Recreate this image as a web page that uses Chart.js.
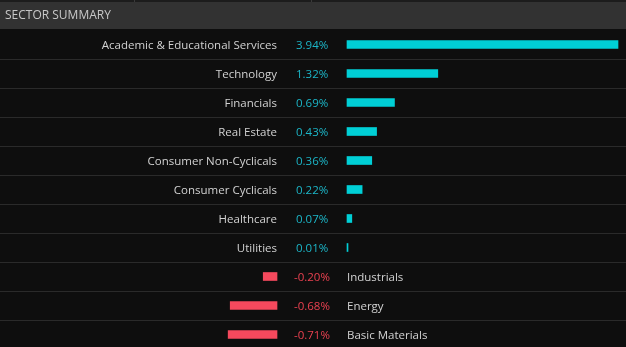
<!DOCTYPE html>
<html><head><meta charset="utf-8">
<script src="https://cdn.jsdelivr.net/npm/chart.js@4/dist/chart.umd.min.js"></script>
<style>html,body{margin:0;padding:0;background:#0e0e0e;overflow:hidden;width:626px;height:347px}canvas{display:block}</style>
</head><body>
<canvas id="c" width="626" height="349"></canvas>
<script>
const title = 'SECTOR SUMMARY';
const sectors = ['Academic & Educational Services','Technology','Financials','Real Estate','Consumer Non-Cyclicals','Consumer Cyclicals','Healthcare','Utilities','Industrials','Energy','Basic Materials'];
const changes = [3.94,1.32,0.69,0.43,0.36,0.22,0.07,0.01,-0.20,-0.68,-0.71];

const FONT = '11.5px "Open Sans"';
const HFONT = '12px "Open Sans"';
const POS = '#00cfd6', NEG = '#f5495d', POS_TXT = '#1cb6c8', NEG_TXT = '#ea4150', LBL = '#d2d2d2';
const maxAbs = Math.max(...changes.map(Math.abs));

const shiftPlugin = {
  id: 'shift',
  afterLayout(chart) {
    const xp = chart.scales.xp, xn = chart.scales.xn;
    const w = xp.right - xp.left;
    const right = chart.chartArea.left - 70;
    xn.left = right - w; xn.right = right; xn.width = w;
    xn.configure();
  },
  beforeDraw(chart) {
    const ctx = chart.ctx, y = chart.scales.y;
    ctx.save();
    ctx.fillStyle = '#0e0e0e'; ctx.fillRect(0, 0, chart.width, chart.height);
    ctx.fillStyle = '#1c1c1c'; ctx.fillRect(0, 0, chart.width, 2);
    ctx.fillStyle = '#3a3a3a'; ctx.fillRect(134, 0, 1, 2); ctx.fillRect(311, 0, 1, 2);
    ctx.fillStyle = '#323232'; ctx.fillRect(0, 2, chart.width, 27);
    ctx.fillStyle = '#2a2a2a';
    const step = (y.bottom - y.top) / sectors.length;
    for (let i = 0; i < sectors.length - 1; i++) {
      const yy = Math.round(y.getPixelForValue(i) + step / 2);
      ctx.fillRect(0, yy, chart.width, 1);
    }
    ctx.font = HFONT; ctx.textBaseline = 'middle';
    ctx.fillStyle = '#c8c8c8'; ctx.textAlign = 'left';
    ctx.fillText(title, 5, 16);
    ctx.restore();
  },
  afterDatasetsDraw(chart) {
    const ctx = chart.ctx, y = chart.scales.y, xp = chart.scales.xp, xn = chart.scales.xn;
    ctx.save();
    ctx.font = FONT; ctx.textBaseline = 'middle';
    changes.forEach((v, i) => {
      const yy = y.getPixelForValue(i) + 1.5;
      const txt = v.toFixed(2) + '%';
      if (v >= 0) {
        ctx.fillStyle = LBL; ctx.textAlign = 'right';
        ctx.fillText(sectors[i], xn.right, yy);
        ctx.fillStyle = POS_TXT; ctx.textAlign = 'left';
        ctx.fillText(txt, xn.right + 19, yy);
      } else {
        ctx.fillStyle = NEG_TXT; ctx.textAlign = 'left';
        ctx.fillText(txt, xn.right + 17, yy);
        ctx.fillStyle = LBL;
        ctx.fillText(sectors[i], xp.left, yy);
      }
    });
    ctx.restore();
  }
};

new Chart(document.getElementById('c'), {
  type: 'bar',
  data: {
    labels: sectors,
    datasets: [
      { data: changes.map(v => v >= 0 ? v : null), xAxisID: 'xp', backgroundColor: POS, clip: false, minBarLength: 1 },
      { data: changes.map(v => v < 0 ? v : null), xAxisID: 'xn', backgroundColor: NEG, clip: false }
    ]
  },
  options: {
    indexAxis: 'y',
    responsive: false,
    animation: false,
    events: [],
    layout: { padding: { left: 347, right: 8, top: 30, bottom: 0 } },
    datasets: { bar: { barThickness: 8, grouped: false, borderWidth: 0 } },
    plugins: { legend: { display: false }, tooltip: { enabled: false }, title: { display: false } },
    scales: {
      y: { type: 'category', display: false },
      xp: { type: 'linear', axis: 'x', position: 'bottom', min: 0, max: maxAbs, display: false },
      xn: { type: 'linear', axis: 'x', position: 'bottom', min: -maxAbs, max: 0, display: false }
    }
  },
  plugins: [shiftPlugin]
});
</script>
</body></html>
